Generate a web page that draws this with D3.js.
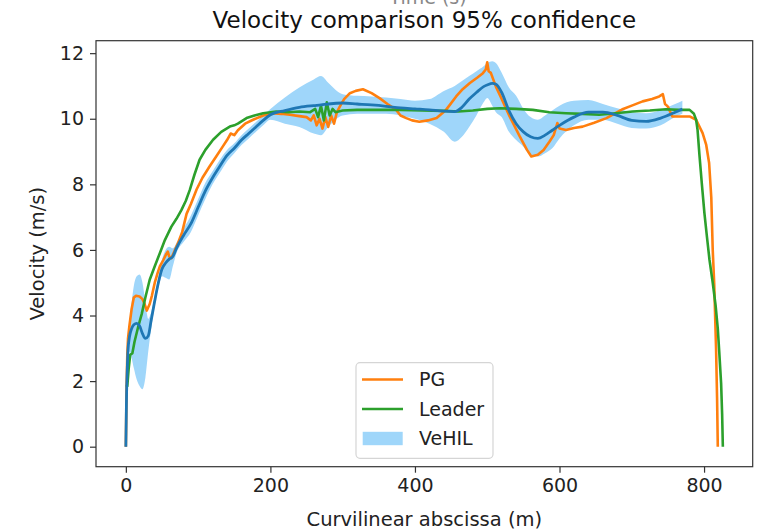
<!DOCTYPE html>
<html>
<head>
<meta charset="utf-8">
<script src="https://cdn.jsdelivr.net/npm/d3@7"></script>
<style>
  body { margin: 0; background: #fff; }
  text { font-family: "DejaVu Sans", sans-serif; }
</style>
</head>
<body>
<svg id="chart" width="771" height="532"></svg>
<script>
// ---------------- DATA ----------------
const xTicks = [0, 200, 400, 600, 800];
const yTicks = [0, 2, 4, 6, 8, 10, 12];
const legendLabels = ["PG", "Leader", "VeHIL"];

// VeHIL mean and 95% confidence band
const vehilX = [0,0.5,1,2,3,5,8,11,15,19,23,27,31,35,40,45,50,55,60,65,70,80,90,100,110,120,130,140,150,160,170,180,190,200,220,240,260,270,280,300,320,340,360,380,400,420,440,455,465,475,485,495,500,507,512,520,530,540,550,560,570,580,590,600,620,640,660,680,700,720,740,760,770];
const vehilMean = [0,0.8,1.6,2.4,2.95,3.35,3.6,3.72,3.76,3.68,3.45,3.3,3.38,3.85,4.45,5.0,5.42,5.6,5.72,5.8,6.05,6.45,6.8,7.3,7.8,8.2,8.55,8.88,9.1,9.35,9.55,9.75,9.95,10.12,10.25,10.35,10.4,10.42,10.45,10.48,10.45,10.42,10.38,10.33,10.3,10.27,10.23,10.22,10.35,10.6,10.8,10.98,11.03,11.08,11.05,10.8,10.25,9.85,9.6,9.45,9.4,9.5,9.65,9.8,10.05,10.2,10.2,10.1,9.95,9.92,10.02,10.2,10.3];
const vehilLow = [0,0.7,1.5,2.2,2.7,2.9,2.7,2.4,2.05,1.85,1.75,2.1,2.9,3.6,4.3,4.85,5.2,5.15,5.1,5.5,5.9,6.25,6.55,7.05,7.55,8.0,8.35,8.7,8.95,9.2,9.4,9.6,9.8,9.97,9.85,9.75,9.55,9.5,9.75,10.1,10.15,10.15,10.15,10.1,10.0,9.85,9.6,9.3,9.45,9.75,10.1,10.5,10.63,10.4,10.2,10.05,9.6,9.35,9.15,8.9,8.85,8.95,9.1,9.4,9.8,9.97,9.97,9.85,9.72,9.7,9.8,10.05,10.15];
const vehilHigh = [0,0.9,1.7,2.6,3.2,3.8,4.4,4.9,5.2,5.25,5.0,4.4,3.9,4.1,4.6,5.15,5.7,6.0,6.1,6.05,6.2,6.65,7.05,7.55,8.05,8.4,8.75,9.05,9.25,9.5,9.7,9.9,10.1,10.3,10.65,10.95,11.2,11.3,11.1,10.75,10.7,10.68,10.65,10.6,10.55,10.6,10.85,11.0,11.15,11.3,11.45,11.6,11.7,11.75,11.7,11.4,10.95,10.7,10.3,10.05,9.97,10.1,10.25,10.4,10.55,10.57,10.45,10.32,10.2,10.17,10.27,10.45,10.55];

// PG series
const pgX = [0,1,2,3,5,8,11,14,19,23,26,29,31,33,36,40,44,47,52,56,58,60,63,67,72,78,84,90,98,106,116,125,134,140,145,150,155,165,176,190,203,215,227,240,250,256,260,264,268,272,276,280,284,288,292,296,302,310,318,328,340,351,362,374,380,388,396,406,418,430,443,457,466,476,486,494,498,500,502,505,512,520,531,545,555,561,570,578,586,592,597,600,609,620,632,648,665,688,700,715,728,738,743,746,750,756,770,780,789,798,803,807,810,812,814,816.6,818,819];
const pgV = [0,1.8,2.8,3.3,3.7,4.2,4.55,4.6,4.58,4.5,4.35,4.15,4.25,4.35,4.6,5.0,5.3,5.5,5.7,5.88,5.95,5.8,5.75,5.95,6.2,6.55,7.1,7.4,7.85,8.2,8.55,8.85,9.15,9.35,9.55,9.5,9.65,9.85,9.97,10.1,10.17,10.15,10.12,10.08,10.05,9.95,10.1,9.8,10.0,9.7,10.05,9.75,10.1,9.85,10.2,10.37,10.6,10.78,10.85,10.9,10.78,10.63,10.45,10.27,10.1,10.02,9.95,9.91,9.95,10.02,10.27,10.68,10.9,11.09,11.25,11.39,11.5,11.72,11.45,11.4,10.98,10.6,10.07,9.46,9.05,8.85,8.9,9.05,9.3,9.5,9.87,9.7,9.66,9.72,9.76,9.88,10.02,10.3,10.4,10.53,10.6,10.68,10.75,10.45,10.37,10.07,10.07,10.07,9.97,9.56,9.2,8.65,7.6,6.0,5.0,3.0,1.5,0];

// Leader series
const leaderX = [0,2,4,6,9,12,17,22,27,33,40,47,54,63,70,77,83,88.5,95,102,110,120.7,132,143.8,150,155,167,178,190,208,225,240,255,262,266,270,274,278,282,286,290,300,320,350,380,410,440,460,480,500,517,540,563,586,609,632,655,678,701,725,747.5,765,780,786,789,791,793.6,797,800.5,804,807.5,812,816,819,821,823.6,825,826];
const leaderV = [1.83,1.85,2.4,2.8,2.85,3.2,3.65,4.05,4.55,5.09,5.5,5.9,6.3,6.71,6.95,7.22,7.5,7.83,8.3,8.75,9.05,9.36,9.6,9.76,9.8,9.85,10.02,10.1,10.17,10.22,10.2,10.22,10.2,10.3,10.05,10.4,9.95,10.5,10.1,10.3,10.2,10.25,10.27,10.27,10.27,10.25,10.24,10.22,10.25,10.3,10.32,10.3,10.27,10.2,10.17,10.15,10.12,10.17,10.22,10.25,10.29,10.27,10.27,10.15,9.97,9.66,8.9,8.0,7.12,6.4,5.7,5.0,4.3,3.6,2.9,1.93,1.0,0];

// ---------------- CHART ----------------
const svg = d3.select("#chart");
const mL = 96, mR = 752.7, mT = 40.7, mB = 466.7;

const x = d3.scaleLinear().domain([-41.3, 867.3]).range([mL, mR]);
const y = d3.scaleLinear().domain([-0.61, 12.38]).range([mB, mT]);

svg.append("defs").append("clipPath").attr("id", "clip")
  .append("rect").attr("x", mL).attr("y", mT)
  .attr("width", mR - mL).attr("height", mB - mT);

const COLORS = { pg: "#ff7f0e", leader: "#2ca02c", mean: "#1f77b4", band: "#9fd6fa" };

const plot = svg.append("g").attr("clip-path", "url(#clip)");

const bandData = vehilX.map((d, i) => ({ x: d, lo: vehilLow[i], hi: vehilHigh[i] }));
plot.append("path")
  .datum(bandData)
  .attr("fill", COLORS.band)
  .attr("stroke", "none")
  .attr("d", d3.area().curve(d3.curveMonotoneX)
    .x(d => x(d.x)).y0(d => y(d.lo)).y1(d => y(d.hi)));

const line = d3.line().x(d => x(d[0])).y(d => y(d[1]));

plot.append("path")
  .datum(pgX.map((d, i) => [d, pgV[i]]))
  .attr("fill", "none").attr("stroke", COLORS.pg)
  .attr("stroke-width", 2.6).attr("stroke-linejoin", "round")
  .attr("d", line);

plot.append("path")
  .datum(leaderX.map((d, i) => [d, leaderV[i]]))
  .attr("fill", "none").attr("stroke", COLORS.leader)
  .attr("stroke-width", 2.6).attr("stroke-linejoin", "round")
  .attr("d", line);

plot.append("path")
  .datum(vehilX.map((d, i) => [d, vehilMean[i]]))
  .attr("fill", "none").attr("stroke", COLORS.mean)
  .attr("stroke-width", 2.8).attr("stroke-linejoin", "round")
  .attr("d", d3.line().curve(d3.curveMonotoneX).x(d => x(d[0])).y(d => y(d[1])));

// Axes
const xAxis = svg.append("g")
  .attr("transform", `translate(0,${mB})`)
  .call(d3.axisBottom(x).tickValues(xTicks).tickSize(6).tickPadding(6).tickSizeOuter(0));
const yAxis = svg.append("g")
  .attr("transform", `translate(${mL},0)`)
  .call(d3.axisLeft(y).tickValues(yTicks).tickSize(6).tickPadding(6).tickSizeOuter(0));

[xAxis, yAxis].forEach(g => {
  g.select(".domain").remove();
  g.selectAll(".tick line").attr("stroke", "#333").attr("stroke-width", 1.2);
  g.selectAll(".tick text").attr("fill", "#222")
    .style("font-family", "DejaVu Sans, sans-serif").style("font-size", "19px");
});

// Frame
svg.append("rect")
  .attr("x", mL).attr("y", mT)
  .attr("width", mR - mL).attr("height", mB - mT)
  .attr("fill", "none").attr("stroke", "#333").attr("stroke-width", 1.2);

// Labels
svg.append("text")
  .attr("x", (mL + mR) / 2).attr("y", 28)
  .attr("text-anchor", "middle")
  .attr("fill", "#111")
  .style("font-size", "23px")
  .text("Velocity comparison 95% confidence");

// clipped label from figure above
svg.append("text")
  .attr("x", 428).attr("y", 4)
  .attr("text-anchor", "middle")
  .attr("fill", "#888")
  .style("font-size", "19px")
  .text("Time (s)");

svg.append("text")
  .attr("x", (mL + mR) / 2).attr("y", 526)
  .attr("text-anchor", "middle")
  .attr("fill", "#222")
  .style("font-size", "19.5px")
  .text("Curvilinear abscissa (m)");

svg.append("text")
  .attr("transform", `translate(44,${(mT + mB) / 2}) rotate(-90)`)
  .attr("text-anchor", "middle")
  .attr("fill", "#222")
  .style("font-size", "19.5px")
  .text("Velocity (m/s)");

// Legend
const lg = svg.append("g");
lg.append("rect")
  .attr("x", 356).attr("y", 362.7).attr("width", 137).attr("height", 95.6)
  .attr("rx", 4).attr("fill", "#fff").attr("fill-opacity", 0.85)
  .attr("stroke", "#d5d5d5").attr("stroke-width", 1.2);

const legendRows = [
  { label: legendLabels[0], type: "line", color: COLORS.pg, y: 379.5 },
  { label: legendLabels[1], type: "line", color: COLORS.leader, y: 409 },
  { label: legendLabels[2], type: "patch", color: COLORS.band, y: 438.5 }
];
legendRows.forEach(r => {
  if (r.type === "line") {
    lg.append("line").attr("x1", 362).attr("x2", 403)
      .attr("y1", r.y).attr("y2", r.y)
      .attr("stroke", r.color).attr("stroke-width", 2.6);
  } else {
    lg.append("rect").attr("x", 362.7).attr("y", r.y - 6.7)
      .attr("width", 40).attr("height", 13.4).attr("fill", r.color);
  }
  lg.append("text").attr("x", 419).attr("y", r.y + 6.8)
    .attr("fill", "#222").style("font-size", "19px").text(r.label);
});
</script>
</body>
</html>
